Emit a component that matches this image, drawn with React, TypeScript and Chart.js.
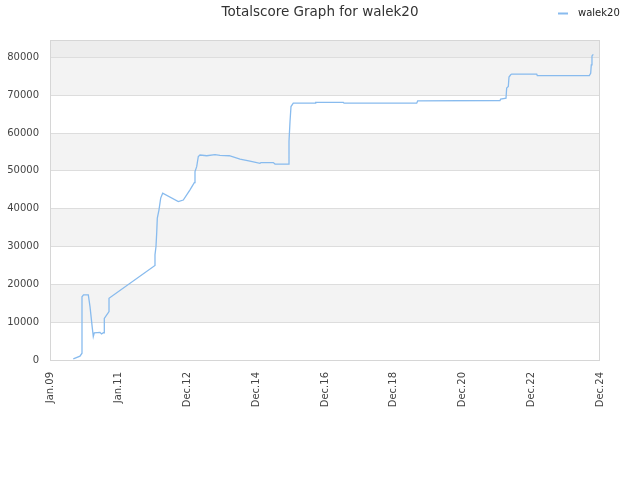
import React, { useEffect, useRef } from "react";
import { Chart, registerables } from "chart.js";

Chart.register(...registerables);

const chartTitle = "Totalscore Graph for walek20";
const seriesName = "walek20";

// x axis tick positions (decimal years) and their labels
const tickYears = [2009.0, 2010.99, 2012.98, 2014.97, 2016.96, 2018.95, 2020.94, 2022.93, 2024.92];
const tickLabels = ["Jan.09", "Jan.11", "Dec.12", "Dec.14", "Dec.16", "Dec.18", "Dec.20", "Dec.22", "Dec.24"];

// y axis ticks
const yTicks = [0, 10000, 20000, 30000, 40000, 50000, 60000, 70000, 80000];
const yMax = 84600;

// series: time (decimal years) and total score
const scoreDates = [
  2009.674, 2009.868, 2009.926, 2009.926, 2009.970, 2010.109, 2010.158, 2010.224, 2010.253, 2010.282,
  2010.447, 2010.491, 2010.549, 2010.572, 2010.572, 2010.708, 2010.708, 2012.039, 2012.039, 2012.068,
  2012.088, 2012.106, 2012.155, 2012.204, 2012.262, 2012.714, 2012.858, 2013.052, 2013.177, 2013.197,
  2013.246, 2013.293, 2013.342, 2013.536, 2013.776, 2013.921, 2014.190, 2014.500, 2014.789, 2015.078,
  2015.107, 2015.463, 2015.513, 2015.918, 2015.918, 2015.947, 2015.976, 2016.042, 2016.671, 2016.691,
  2017.490, 2017.510, 2019.614, 2019.643, 2022.025, 2022.045, 2022.199, 2022.219, 2022.266, 2022.286,
  2022.335, 2022.364, 2023.088, 2023.105, 2024.610, 2024.650, 2024.668, 2024.688, 2024.726,
];
const scoreValues = [
  300, 1000, 1800, 16700, 17200, 17200, 14100, 8500, 6200, 7200,
  7300, 6900, 7200, 7200, 11000, 12800, 16300, 25000, 27800, 30000,
  33500, 37500, 39700, 42800, 44100, 41900, 42300, 45000, 46900, 49800,
  51100, 53800, 54200, 54000, 54300, 54100, 54000, 53100, 52600, 52000,
  52200, 52200, 51800, 51800, 57800, 63000, 67000, 67900, 67900, 68100,
  68100, 67900, 67900, 68500, 68600, 69000, 69200, 71900, 72300, 74800,
  75400, 75600, 75600, 75200, 75200, 75800, 78000, 80400, 80800,
];

const lineColor = "#88bbee";
const font = "'DejaVu Sans', sans-serif";

const decorPlugin = {
  id: "decor",
  beforeDraw(chart: any) {
    const { ctx, chartArea } = chart;
    const y = chart.scales.y;
    ctx.save();
    const edges = [...yTicks, yMax];
    for (let i = 0; i < edges.length - 1; i++) {
      const top = y.getPixelForValue(edges[i + 1]);
      const bot = y.getPixelForValue(edges[i]);
      let color = i % 2 === 1 ? "#f3f3f3" : "#ffffff";
      if (i === edges.length - 2) color = "#ededed";
      ctx.fillStyle = color;
      ctx.fillRect(chartArea.left, top, chartArea.right - chartArea.left, bot - top);
    }
    ctx.restore();
  },
  afterDatasetsDraw(chart: any) {
    const { ctx, chartArea } = chart;
    ctx.save();
    ctx.strokeStyle = "#d6d6d6";
    ctx.lineWidth = 1;
    ctx.strokeRect(chartArea.left + 0.5, chartArea.top + 0.5, chartArea.right - chartArea.left - 1, chartArea.bottom - chartArea.top);
    ctx.restore();
  },
  afterDraw(chart: any) {
    const { ctx } = chart;
    ctx.save();
    // title
    ctx.fillStyle = "#333";
    ctx.font = "13.5px " + font;
    ctx.textAlign = "center";
    ctx.textBaseline = "alphabetic";
    ctx.fillText(chartTitle, 320, 16);
    // legend
    ctx.strokeStyle = lineColor;
    ctx.lineWidth = 2;
    ctx.beginPath();
    ctx.moveTo(558, 13.5);
    ctx.lineTo(568, 13.5);
    ctx.stroke();
    ctx.fillStyle = "#222";
    ctx.font = "10px " + font;
    ctx.textAlign = "left";
    ctx.textBaseline = "middle";
    ctx.fillText(seriesName, 578, 13);
    ctx.restore();
  },
};

export default function App() {
  const ref = useRef<HTMLCanvasElement>(null);
  useEffect(() => {
    document.body.style.margin = "0";
    const data = scoreDates.map((d, i) => ({ x: d, y: scoreValues[i] }));
    const chart = new Chart(ref.current!, {
      type: "line",
      data: {
        datasets: [
          {
            label: seriesName,
            data,
            borderColor: lineColor,
            backgroundColor: lineColor,
            borderWidth: 1.3,
            pointRadius: 0,
            fill: false,
            tension: 0,
          },
        ],
      },
      options: {
        animation: false,
        responsive: false,
        devicePixelRatio: 1,
        layout: { padding: { left: 0, right: 40, top: 40, bottom: 0 } },
        plugins: {
          legend: { display: false },
          tooltip: { enabled: false },
          title: { display: false },
        },
        scales: {
          x: {
            type: "linear",
            min: tickYears[0],
            max: tickYears[tickYears.length - 1],
            afterBuildTicks: (scale: any) => {
              scale.ticks = tickYears.map((v) => ({ value: v }));
            },
            afterFit: (scale: any) => {
              scale.height = 120;
            },
            grid: { display: false, drawTicks: false },
            border: { display: false },
            ticks: {
              autoSkip: false,
              minRotation: 90,
              maxRotation: 90,
              padding: 12,
              color: "#444",
              font: { family: font, size: 10 },
              callback: (_v: any, i: number) => tickLabels[i],
            },
          },
          y: {
            type: "linear",
            min: 0,
            max: yMax,
            afterBuildTicks: (scale: any) => {
              scale.ticks = yTicks.map((v) => ({ value: v }));
            },
            afterFit: (scale: any) => {
              scale.width = 50;
            },
            grid: { color: "#dddddd", drawTicks: false },
            border: { display: false },
            ticks: {
              autoSkip: false,
              padding: 11,
              color: "#444",
              font: { family: font, size: 10 },
              callback: (v: any) => String(v),
            },
          },
        },
      },
      plugins: [decorPlugin],
    });
    return () => chart.destroy();
  }, []);
  return (
    <div style={{ position: "absolute", left: 0, top: 0, width: 640, height: 480 }}>
      <canvas ref={ref} width={640} height={480} />
    </div>
  );
}
